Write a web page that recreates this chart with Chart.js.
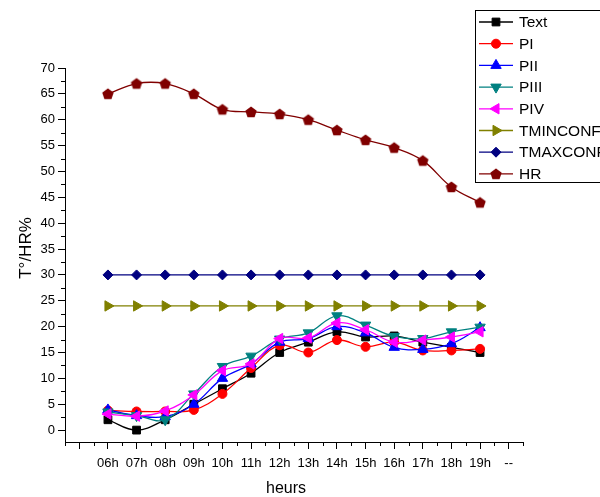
<!DOCTYPE html>
<html>
<head>
<meta charset="utf-8">
<title>T°/HR%</title>
<script src="https://cdn.jsdelivr.net/npm/chart.js@4.4.1/dist/chart.umd.min.js"></script>
<style>
  html, body { margin: 0; padding: 0; background: #fff; }
  canvas { display: block; }
</style>
</head>
<body>
<canvas id="chart" width="600" height="497"></canvas>
<script>
// --- data ---
const hours = ['06h', '07h', '08h', '09h', '10h', '11h', '12h', '13h', '14h', '15h', '16h', '17h', '18h', '19h'];
const xTickLabels = ['', '06h', '07h', '08h', '09h', '10h', '11h', '12h', '13h', '14h', '15h', '16h', '17h', '18h', '19h', '--'];
const yTickValues = [0, 5, 10, 15, 20, 25, 30, 35, 40, 45, 50, 55, 60, 65, 70];

const textT = [2, 0, 2, 5, 8, 11, 15, 17, 19, 18, 18.2, 17, 16, 15];
const pI    = [3.8, 3.6, 3.6, 3.9, 7, 12, 16.4, 15, 17.4, 16.1, 17, 15.4, 15.4, 15.7];
const pII   = [3.9, 2.8, 2.6, 5, 10, 12.8, 17, 17.7, 20, 18.8, 16, 15.6, 16.7, 19.8];
const pIII  = [3.5, 2.8, 2, 7, 12.3, 14.3, 17.6, 18.8, 22.1, 20.3, 18.1, 17.7, 19, 19.9];
const pIV   = [3.1, 2.7, 3.7, 6.8, 11.5, 12.8, 17.7, 17.8, 20.7, 19.4, 17, 17.4, 18, 19];
const tMinConf = [24, 24, 24, 24, 24, 24, 24, 24, 24, 24, 24, 24, 24, 24];
const tMaxConf = [30, 30, 30, 30, 30, 30, 30, 30, 30, 30, 30, 30, 30, 30];
const hr    = [65, 67, 67, 65, 62, 61.5, 61.1, 60, 58, 56.1, 54.6, 52.1, 47, 44];

const FONT = '"Liberation Sans", Arial, sans-serif';

// pentagon marker (no built-in style for it)
function pentagon(color, r) {
  const c = document.createElement('canvas');
  const s = Math.ceil(r * 2 + 2);
  c.width = c.height = s;
  const g = c.getContext('2d');
  g.fillStyle = color;
  g.beginPath();
  for (let k = 0; k < 5; k++) {
    const a = -Math.PI / 2 + k * 2 * Math.PI / 5;
    g.lineTo(s / 2 + r * Math.cos(a), s / 2 + 0.5 + r * Math.sin(a));
  }
  g.closePath();
  g.fill();
  return c;
}

const toPoints = (vals) => vals.map((v, i) => ({ x: xTickLabels.indexOf(hours[i]), y: v }));

function series(label, vals, color, style, radius, rotation) {
  return {
    label,
    data: toPoints(vals),
    borderColor: color,
    backgroundColor: color,
    borderWidth: 1.3,
    pointStyle: style,
    pointRadius: radius,
    pointRotation: rotation || 0,
    pointBorderWidth: 1,
    pointBorderColor: color,
    pointBackgroundColor: color,
    tension: 0.4,
  };
}

const datasets = [
  series('Text', textT, '#000000', 'rect', 5.5),
  series('PI', pI, '#ff0000', 'circle', 4.5),
  series('PII', pII, '#0000ff', 'triangle', 6),
  series('PIII', pIII, '#008080', 'triangle', 6, 180),
  series('PIV', pIV, '#ff00ff', 'triangle', 6, -90),
  series('TMINCONF', tMinConf, '#808000', 'triangle', 6, 90),
  series('TMAXCONF', tMaxConf, '#000080', 'rectRot', 5),
  series('HR', hr, '#800000', pentagon('#800000', 6), 6),
];
// later series sit on top, like the original
datasets.forEach((d, i) => { d.order = datasets.length - i; });

// minor ticks, axis titles and the boxed legend
const extras = {
  id: 'extras',
  afterDraw(chart) {
    const { ctx } = chart;
    const xs = chart.scales.x, ys = chart.scales.y;
    const area = chart.chartArea;
    ctx.save();
    ctx.strokeStyle = '#000';
    ctx.lineWidth = 1;
    ctx.beginPath();
    for (let i = 0; i <= xTickLabels.length; i++) {
      const px = Math.round(xs.getPixelForValue(i - 0.5)) + 0.5;
      ctx.moveTo(px, area.bottom);
      ctx.lineTo(px, area.bottom + 4);
    }
    for (let i = 0; i < yTickValues.length - 1; i++) {
      const py = Math.round(ys.getPixelForValue(yTickValues[i] + 2.5)) + 0.5;
      ctx.moveTo(area.left, py);
      ctx.lineTo(area.left - 4, py);
    }
    ctx.stroke();

    // titles
    ctx.fillStyle = '#000';
    ctx.textAlign = 'center';
    ctx.textBaseline = 'middle';
    ctx.font = '16px ' + FONT;
    ctx.fillText('heurs', 286, 489);
    ctx.save();
    ctx.translate(26, 248);
    ctx.rotate(-Math.PI / 2);
    ctx.font = '17px ' + FONT;
    ctx.fillText('T°/HR%', 0, 0);
    ctx.restore();

    // legend
    ctx.strokeRect(475.5, 10.5, 200, 172);
    ctx.textAlign = 'left';
    ctx.font = '15.5px ' + FONT;
    chart.data.datasets.forEach((d, i) => {
      const y = 22 + i * 21.7;
      ctx.strokeStyle = d.borderColor;
      ctx.lineWidth = 1.3;
      ctx.beginPath();
      ctx.moveTo(479, y);
      ctx.lineTo(513, y);
      ctx.stroke();
      ctx.fillStyle = d.borderColor;
      ctx.lineWidth = 1;
      Chart.helpers.drawPoint(ctx, {
        pointStyle: d.pointStyle,
        rotation: d.pointRotation,
        radius: d.pointRadius,
        borderWidth: 1,
      }, 496, y);
      ctx.fillStyle = '#000';
      ctx.fillText(d.label, 519, y + 1);
    });
    ctx.restore();
  },
};

new Chart(document.getElementById('chart'), {
  type: 'line',
  data: { datasets },
  options: {
    responsive: false,
    animation: false,
    devicePixelRatio: 1,
    layout: { padding: { top: 68, right: 77, left: 0, bottom: 0 } },
    plugins: { legend: { display: false }, tooltip: { enabled: false } },
    events: [],
    scales: {
      x: {
        type: 'linear',
        min: -0.5,
        max: 15.5,
        afterFit(s) { s.height = 55; },
        afterBuildTicks(s) { s.ticks = xTickLabels.map((_, i) => ({ value: i })); },
        ticks: {
          autoSkip: false,
          maxRotation: 0,
          padding: 7,
          color: '#000',
          font: { family: FONT, size: 13 },
          callback: (v) => xTickLabels[v] ?? '',
        },
        grid: { drawOnChartArea: false, drawTicks: true, tickLength: 7, tickColor: '#000' },
        border: { display: true, color: '#000', width: 1 },
      },
      y: {
        type: 'linear',
        min: -2.3,
        max: 70,
        afterFit(s) { s.width = 65; },
        afterBuildTicks(s) { s.ticks = yTickValues.map((v) => ({ value: v })); },
        ticks: {
          padding: 3,
          color: '#000',
          font: { family: FONT, size: 13 },
        },
        grid: { drawOnChartArea: false, drawTicks: true, tickLength: 7, tickColor: '#000' },
        border: { display: true, color: '#000', width: 1 },
      },
    },
  },
  plugins: [extras],
});
</script>
</body>
</html>
